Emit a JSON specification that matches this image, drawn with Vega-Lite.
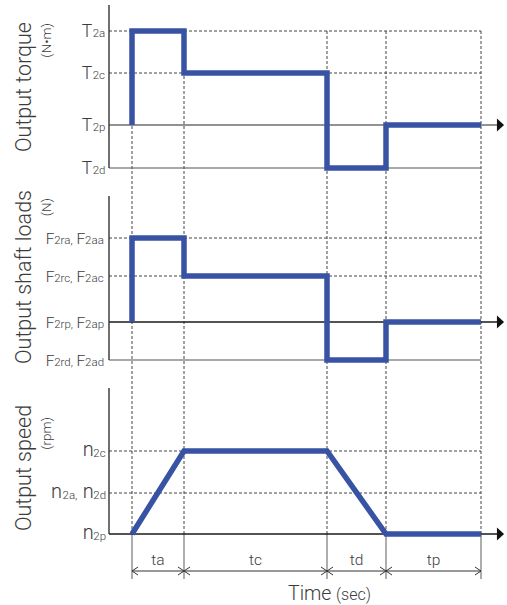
{
  "$schema": "https://vega.github.io/schema/vega-lite/v6.json",
  "width": 507,
  "height": 605,
  "autosize": {"type": "fit", "contains": "padding"},
  "padding": 0,
  "background": "white",
  "config": {"view": {"stroke": null}},
  "datasets": {
    "levels": [
      {"panel": "torque", "level": "T2a", "y": 57.4, "kind": "ref"},
      {"panel": "torque", "level": "T2c", "y": 53.2, "kind": "ref"},
      {"panel": "torque", "level": "T2p", "y": 48.0, "kind": "base"},
      {"panel": "torque", "level": "T2d", "y": 43.7, "kind": "floor"},
      {"panel": "load", "level": "F2ra", "y": 36.7, "kind": "ref"},
      {"panel": "load", "level": "F2rc", "y": 32.9, "kind": "ref"},
      {"panel": "load", "level": "F2rp", "y": 28.3, "kind": "base"},
      {"panel": "load", "level": "F2rd", "y": 24.5, "kind": "floor"},
      {"panel": "speed", "level": "n2c", "y": 15.4, "kind": "ref"},
      {"panel": "speed", "level": "n2a", "y": 11.2, "kind": "ref"},
      {"panel": "speed", "level": "n2p", "y": 7.1, "kind": "base"}
    ],
    "panels": [
      {"panel": "torque", "top": 60.0, "bottom": 43.7},
      {"panel": "load", "top": 40.9, "bottom": 24.5},
      {"panel": "speed", "top": 21.7, "bottom": 7.1}
    ],
    "times": [{"t": 0}, {"t": 5.2}, {"t": 19.5}, {"t": 25.4}, {"t": 34.9}],
    "spans": [
      {"label": "ta", "start": 0, "end": 5.2, "mid": 2.6},
      {"label": "tc", "start": 5.2, "end": 19.5, "mid": 12.35},
      {"label": "td", "start": 19.5, "end": 25.4, "mid": 22.45},
      {"label": "tp", "start": 25.4, "end": 34.9, "mid": 30.15}
    ],
    "profile": [
      {"series": "torque", "seq": 1, "t": 0, "y": 48.0},
      {"series": "torque", "seq": 2, "t": 0, "y": 57.4},
      {"series": "torque", "seq": 3, "t": 5.2, "y": 57.4},
      {"series": "torque", "seq": 4, "t": 5.2, "y": 53.2},
      {"series": "torque", "seq": 5, "t": 19.5, "y": 53.2},
      {"series": "torque", "seq": 6, "t": 19.5, "y": 43.7},
      {"series": "torque", "seq": 7, "t": 25.4, "y": 43.7},
      {"series": "torque", "seq": 8, "t": 25.4, "y": 48.0},
      {"series": "torque", "seq": 9, "t": 34.9, "y": 48.0},
      {"series": "load", "seq": 1, "t": 0, "y": 28.3},
      {"series": "load", "seq": 2, "t": 0, "y": 36.7},
      {"series": "load", "seq": 3, "t": 5.2, "y": 36.7},
      {"series": "load", "seq": 4, "t": 5.2, "y": 32.9},
      {"series": "load", "seq": 5, "t": 19.5, "y": 32.9},
      {"series": "load", "seq": 6, "t": 19.5, "y": 24.5},
      {"series": "load", "seq": 7, "t": 25.4, "y": 24.5},
      {"series": "load", "seq": 8, "t": 25.4, "y": 28.3},
      {"series": "load", "seq": 9, "t": 34.9, "y": 28.3},
      {"series": "speed", "seq": 1, "t": 0, "y": 7.1},
      {"series": "speed", "seq": 2, "t": 5.2, "y": 15.4},
      {"series": "speed", "seq": 3, "t": 19.5, "y": 15.4},
      {"series": "speed", "seq": 4, "t": 25.4, "y": 7.1},
      {"series": "speed", "seq": 5, "t": 34.9, "y": 7.1}
    ],
    "ticklabels": [
      {"panel": "torque", "role": "main", "text": "T", "x": -5.03, "y": 57.4},
      {"panel": "torque", "role": "sub", "text": "2a", "x": -3.93, "y": 57.4},
      {"panel": "torque", "role": "main", "text": "T", "x": -5.03, "y": 53.2},
      {"panel": "torque", "role": "sub", "text": "2c", "x": -3.93, "y": 53.2},
      {"panel": "torque", "role": "main", "text": "T", "x": -5.03, "y": 48.0},
      {"panel": "torque", "role": "sub", "text": "2p", "x": -3.93, "y": 48.0},
      {"panel": "torque", "role": "main", "text": "T", "x": -5.03, "y": 43.7},
      {"panel": "torque", "role": "sub", "text": "2d", "x": -3.93, "y": 43.7},
      {"panel": "load", "role": "main", "text": "F", "x": -8.63, "y": 36.7},
      {"panel": "load", "role": "sub", "text": "2ra,", "x": -7.78, "y": 36.7},
      {"panel": "load", "role": "main", "text": "F", "x": -5.54, "y": 36.7},
      {"panel": "load", "role": "sub", "text": "2aa", "x": -4.69, "y": 36.7},
      {"panel": "load", "role": "main", "text": "F", "x": -8.63, "y": 32.9},
      {"panel": "load", "role": "sub", "text": "2rc,", "x": -7.78, "y": 32.9},
      {"panel": "load", "role": "main", "text": "F", "x": -5.54, "y": 32.9},
      {"panel": "load", "role": "sub", "text": "2ac", "x": -4.69, "y": 32.9},
      {"panel": "load", "role": "main", "text": "F", "x": -8.63, "y": 28.3},
      {"panel": "load", "role": "sub", "text": "2rp,", "x": -7.78, "y": 28.3},
      {"panel": "load", "role": "main", "text": "F", "x": -5.54, "y": 28.3},
      {"panel": "load", "role": "sub", "text": "2ap", "x": -4.69, "y": 28.3},
      {"panel": "load", "role": "main", "text": "F", "x": -8.63, "y": 24.5},
      {"panel": "load", "role": "sub", "text": "2rd,", "x": -7.78, "y": 24.5},
      {"panel": "load", "role": "main", "text": "F", "x": -5.54, "y": 24.5},
      {"panel": "load", "role": "sub", "text": "2ad", "x": -4.69, "y": 24.5},
      {"panel": "speed", "role": "main", "text": "n", "x": -4.93, "y": 15.4},
      {"panel": "speed", "role": "sub", "text": "2c", "x": -3.87, "y": 15.4},
      {"panel": "speed", "role": "main", "text": "n", "x": -8.1, "y": 11.2},
      {"panel": "speed", "role": "sub", "text": "2a,", "x": -6.95, "y": 11.2},
      {"panel": "speed", "role": "main", "text": "n", "x": -4.93, "y": 11.2},
      {"panel": "speed", "role": "sub", "text": "2d", "x": -3.87, "y": 11.2},
      {"panel": "speed", "role": "main", "text": "n", "x": -4.93, "y": 7.1},
      {"panel": "speed", "role": "sub", "text": "2p", "x": -3.87, "y": 7.1}
    ],
    "titles": [
      {"panel": "torque", "role": "name", "text": "Output torque", "x": -10.7, "y": 51.8},
      {"panel": "torque", "role": "unit", "text": "(N•m)", "x": -8.55, "y": 58.2},
      {"panel": "load", "role": "name", "text": "Output shaft loads", "x": -10.7, "y": 32.8},
      {"panel": "load", "role": "unit", "text": "(N)", "x": -8.55, "y": 40.7},
      {"panel": "speed", "role": "name", "text": "Output speed", "x": -10.7, "y": 13.7},
      {"panel": "speed", "role": "unit", "text": "(rpm)", "x": -8.55, "y": 18.8}
    ],
    "xtitle": [
      {"role": "name", "text": "Time", "x": 15.6, "y": 0.5},
      {"role": "unit", "text": "(sec)", "x": 20.4, "y": 0.5}
    ]
  },
  "layer": [
    {
      "data": {"name": "levels"},
      "transform": [{"filter": "datum.kind === 'ref'"}],
      "mark": {"type": "rule", "strokeDash": [3, 2], "color": "#444444", "strokeWidth": 1},
      "encoding": {
        "x": {"datum": -2.3, "type": "quantitative", "scale": {"domain": [-13.2, 37.5], "nice": false, "zero": false}, "axis": null},
        "x2": {"datum": 34.9},
        "y": {"field": "y", "type": "quantitative", "scale": {"domain": [0, 60.5], "nice": false, "zero": false}, "axis": null}
      }
    },
    {
      "data": {"name": "times"},
      "mark": {"type": "rule", "strokeDash": [3, 2], "color": "#444444", "strokeWidth": 1},
      "encoding": {
        "x": {"field": "t", "type": "quantitative", "scale": {"domain": [-13.2, 37.5], "nice": false, "zero": false}, "axis": null},
        "y": {"datum": 57.4, "type": "quantitative", "scale": {"domain": [0, 60.5], "nice": false, "zero": false}, "axis": null},
        "y2": {"datum": 7.1}
      }
    },
    {
      "data": {"name": "times"},
      "mark": {"type": "rule", "color": "#777777", "strokeWidth": 1.2},
      "encoding": {
        "x": {"field": "t", "type": "quantitative", "scale": {"domain": [-13.2, 37.5], "nice": false, "zero": false}, "axis": null},
        "y": {"datum": 7.1, "type": "quantitative", "scale": {"domain": [0, 60.5], "nice": false, "zero": false}, "axis": null},
        "y2": {"datum": 2.6}
      }
    },
    {
      "data": {"name": "levels"},
      "transform": [{"filter": "datum.kind === 'floor'"}],
      "mark": {"type": "rule", "color": "#555555", "strokeWidth": 1.2},
      "encoding": {
        "x": {"datum": -2.3, "type": "quantitative", "scale": {"domain": [-13.2, 37.5], "nice": false, "zero": false}, "axis": null},
        "x2": {"datum": 34.9},
        "y": {"field": "y", "type": "quantitative", "scale": {"domain": [0, 60.5], "nice": false, "zero": false}, "axis": null}
      }
    },
    {
      "data": {"name": "levels"},
      "transform": [{"filter": "datum.kind === 'base'"}],
      "mark": {"type": "rule", "strokeWidth": 1.4},
      "encoding": {
        "x": {"datum": -2.3, "type": "quantitative", "scale": {"domain": [-13.2, 37.5], "nice": false, "zero": false}, "axis": null},
        "x2": {"datum": 36.8},
        "y": {"field": "y", "type": "quantitative", "scale": {"domain": [0, 60.5], "nice": false, "zero": false}, "axis": null},
        "color": {"condition": {"test": "datum.level === 'T2p'", "value": "#6e6e6e"}, "value": "#1a1a1a"}
      }
    },
    {
      "data": {"name": "levels"},
      "transform": [{"filter": "datum.kind === 'base'"}],
      "mark": {"type": "point", "shape": "M -0.55 -1 L 0.55 0 L -0.55 1 Z", "size": 169, "filled": true, "opacity": 1, "color": "#111111", "strokeWidth": 0},
      "encoding": {
        "x": {"datum": 36.85, "type": "quantitative", "scale": {"domain": [-13.2, 37.5], "nice": false, "zero": false}, "axis": null},
        "y": {"field": "y", "type": "quantitative", "scale": {"domain": [0, 60.5], "nice": false, "zero": false}, "axis": null}
      }
    },
    {
      "data": {"name": "panels"},
      "mark": {"type": "rule", "color": "#333333", "strokeWidth": 1.4},
      "encoding": {
        "x": {"datum": -2.3, "type": "quantitative", "scale": {"domain": [-13.2, 37.5], "nice": false, "zero": false}, "axis": null},
        "y": {"field": "top", "type": "quantitative", "scale": {"domain": [0, 60.5], "nice": false, "zero": false}, "axis": null},
        "y2": {"field": "bottom"}
      }
    },
    {
      "data": {"name": "spans"},
      "mark": {"type": "rule", "color": "#333333", "strokeWidth": 1},
      "encoding": {
        "x": {"field": "start", "type": "quantitative", "scale": {"domain": [-13.2, 37.5], "nice": false, "zero": false}, "axis": null},
        "x2": {"field": "end"},
        "y": {"datum": 3.4, "type": "quantitative", "scale": {"domain": [0, 60.5], "nice": false, "zero": false}, "axis": null}
      }
    },
    {
      "data": {"name": "spans"},
      "mark": {"type": "point", "shape": "M 1.5 -1 L 0 0 L 1.5 1", "size": 64, "filled": false, "opacity": 1, "color": "#333333", "strokeWidth": 1},
      "encoding": {
        "x": {"field": "start", "type": "quantitative", "scale": {"domain": [-13.2, 37.5], "nice": false, "zero": false}, "axis": null},
        "y": {"datum": 3.4, "type": "quantitative", "scale": {"domain": [0, 60.5], "nice": false, "zero": false}, "axis": null}
      }
    },
    {
      "data": {"name": "spans"},
      "mark": {"type": "point", "shape": "M -1.5 -1 L 0 0 L -1.5 1", "size": 64, "filled": false, "opacity": 1, "color": "#333333", "strokeWidth": 1},
      "encoding": {
        "x": {"field": "end", "type": "quantitative", "scale": {"domain": [-13.2, 37.5], "nice": false, "zero": false}, "axis": null},
        "y": {"datum": 3.4, "type": "quantitative", "scale": {"domain": [0, 60.5], "nice": false, "zero": false}, "axis": null}
      }
    },
    {
      "data": {"name": "spans"},
      "mark": {"type": "text", "font": "Roboto", "fontWeight": 300, "fontSize": 15.5, "color": "#3c3c3c", "align": "center", "baseline": "middle"},
      "encoding": {
        "x": {"field": "mid", "type": "quantitative", "scale": {"domain": [-13.2, 37.5], "nice": false, "zero": false}, "axis": null},
        "y": {"datum": 4.5, "type": "quantitative", "scale": {"domain": [0, 60.5], "nice": false, "zero": false}, "axis": null},
        "text": {"field": "label"}
      }
    },
    {
      "data": {"name": "profile"},
      "mark": {"type": "line", "color": "#3953a4", "strokeWidth": 5.5, "strokeJoin": "miter", "strokeCap": "butt"},
      "encoding": {
        "x": {"field": "t", "type": "quantitative", "scale": {"domain": [-13.2, 37.5], "nice": false, "zero": false}, "axis": null},
        "y": {"field": "y", "type": "quantitative", "scale": {"domain": [0, 60.5], "nice": false, "zero": false}, "axis": null},
        "detail": {"field": "series"},
        "order": {"field": "seq"}
      }
    },
    {
      "data": {"name": "ticklabels"},
      "transform": [{"filter": "datum.role === 'main' && datum.panel === 'torque'"}],
      "mark": {"type": "text", "font": "Roboto", "fontWeight": 300, "fontSize": 17.5, "color": "#3c3c3c", "align": "left", "baseline": "alphabetic", "dy": 5.5},
      "encoding": {
        "x": {"field": "x", "type": "quantitative", "scale": {"domain": [-13.2, 37.5], "nice": false, "zero": false}, "axis": null},
        "y": {"field": "y", "type": "quantitative", "scale": {"domain": [0, 60.5], "nice": false, "zero": false}, "axis": null},
        "text": {"field": "text"}
      }
    },
    {
      "data": {"name": "ticklabels"},
      "transform": [{"filter": "datum.role === 'main' && datum.panel === 'load'"}],
      "mark": {"type": "text", "font": "Roboto", "fontWeight": 300, "fontSize": 15.5, "color": "#3c3c3c", "align": "left", "baseline": "alphabetic", "dy": 5.5},
      "encoding": {
        "x": {"field": "x", "type": "quantitative", "scale": {"domain": [-13.2, 37.5], "nice": false, "zero": false}, "axis": null},
        "y": {"field": "y", "type": "quantitative", "scale": {"domain": [0, 60.5], "nice": false, "zero": false}, "axis": null},
        "text": {"field": "text"}
      }
    },
    {
      "data": {"name": "ticklabels"},
      "transform": [{"filter": "datum.role === 'main' && datum.panel === 'speed'"}],
      "mark": {"type": "text", "font": "Roboto", "fontWeight": 300, "fontSize": 20, "color": "#3c3c3c", "align": "left", "baseline": "alphabetic", "dy": 5},
      "encoding": {
        "x": {"field": "x", "type": "quantitative", "scale": {"domain": [-13.2, 37.5], "nice": false, "zero": false}, "axis": null},
        "y": {"field": "y", "type": "quantitative", "scale": {"domain": [0, 60.5], "nice": false, "zero": false}, "axis": null},
        "text": {"field": "text"}
      }
    },
    {
      "data": {"name": "ticklabels"},
      "transform": [{"filter": "datum.role === 'sub'"}],
      "mark": {"type": "text", "font": "Roboto", "fontWeight": 300, "fontSize": 11.5, "color": "#3c3c3c", "align": "left", "baseline": "alphabetic", "dy": 6},
      "encoding": {
        "x": {"field": "x", "type": "quantitative", "scale": {"domain": [-13.2, 37.5], "nice": false, "zero": false}, "axis": null},
        "y": {"field": "y", "type": "quantitative", "scale": {"domain": [0, 60.5], "nice": false, "zero": false}, "axis": null},
        "text": {"field": "text"}
      }
    },
    {
      "data": {"name": "titles"},
      "transform": [{"filter": "datum.role === 'name'"}],
      "mark": {"type": "text", "font": "Roboto", "fontWeight": 300, "fontSize": 21.5, "color": "#3c3c3c", "align": "center", "baseline": "middle", "angle": 270},
      "encoding": {
        "x": {"field": "x", "type": "quantitative", "scale": {"domain": [-13.2, 37.5], "nice": false, "zero": false}, "axis": null},
        "y": {"field": "y", "type": "quantitative", "scale": {"domain": [0, 60.5], "nice": false, "zero": false}, "axis": null},
        "text": {"field": "text"}
      }
    },
    {
      "data": {"name": "titles"},
      "transform": [{"filter": "datum.role === 'unit'"}],
      "mark": {"type": "text", "font": "Roboto", "fontWeight": 300, "fontSize": 13.5, "color": "#3c3c3c", "align": "right", "baseline": "middle", "angle": 270},
      "encoding": {
        "x": {"field": "x", "type": "quantitative", "scale": {"domain": [-13.2, 37.5], "nice": false, "zero": false}, "axis": null},
        "y": {"field": "y", "type": "quantitative", "scale": {"domain": [0, 60.5], "nice": false, "zero": false}, "axis": null},
        "text": {"field": "text"}
      }
    },
    {
      "data": {"name": "xtitle"},
      "transform": [{"filter": "datum.role === 'name'"}],
      "mark": {"type": "text", "font": "Roboto", "fontWeight": 300, "fontSize": 19.5, "color": "#3c3c3c", "align": "left", "baseline": "alphabetic"},
      "encoding": {
        "x": {"field": "x", "type": "quantitative", "scale": {"domain": [-13.2, 37.5], "nice": false, "zero": false}, "axis": null},
        "y": {"field": "y", "type": "quantitative", "scale": {"domain": [0, 60.5], "nice": false, "zero": false}, "axis": null},
        "text": {"field": "text"}
      }
    },
    {
      "data": {"name": "xtitle"},
      "transform": [{"filter": "datum.role === 'unit'"}],
      "mark": {"type": "text", "font": "Roboto", "fontWeight": 300, "fontSize": 16, "color": "#3c3c3c", "align": "left", "baseline": "alphabetic"},
      "encoding": {
        "x": {"field": "x", "type": "quantitative", "scale": {"domain": [-13.2, 37.5], "nice": false, "zero": false}, "axis": null},
        "y": {"field": "y", "type": "quantitative", "scale": {"domain": [0, 60.5], "nice": false, "zero": false}, "axis": null},
        "text": {"field": "text"}
      }
    }
  ]
}
